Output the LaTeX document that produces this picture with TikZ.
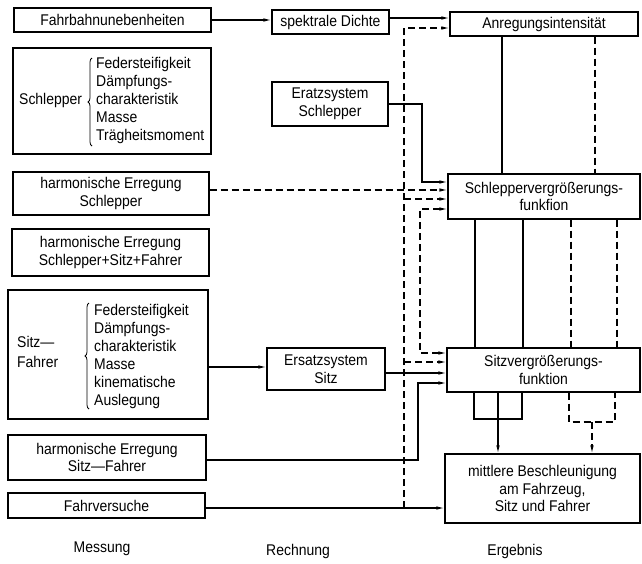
\documentclass[tikz,border=0pt]{standalone}
\usepackage{fontspec}
\setmainfont{Liberation Sans}[FakeStretch=0.9]
\usetikzlibrary{arrows.meta,decorations.pathreplacing}
\tikzset{
  box/.style={draw, line width=1.1pt, inner sep=0pt, align=center},
  conn/.style={line width=1.1pt},
  arr/.style={-{Latex[length=8pt,width=3.5pt]}},
  barr/.style={{Latex[length=8pt,width=3.5pt]}-{Latex[length=8pt,width=3.5pt]}},
  dsh/.style={dash pattern=on 7pt off 4pt},
  brc/.style={decorate, decoration={brace, amplitude=4pt}, line width=0.8pt},
  lst/.style={anchor=west, align=left, inner sep=0pt, font=\fontsize{15.5}{18}\selectfont},
}
\begin{document}
\begin{tikzpicture}[x=1pt, y=-1pt, font=\fontsize{15.5}{17.5}\selectfont]
\useasboundingbox (0,0) rectangle (642,563);
% boxes
\node[box, minimum width=197pt, minimum height=24pt] (fb) at (112.5,20) {Fahrbahnunebenheiten};
\node[box, minimum width=117pt, minimum height=24pt] (sp) at (330.5,22) {spektrale Dichte};
\node[box, minimum width=188pt, minimum height=24pt] (an) at (544,24) {Anregungsintensität};
\node[box, minimum width=198pt, minimum height=106pt] (sb) at (112,101) {};
\node[box, minimum width=116pt, minimum height=44pt] (es) at (330,104) {Eratzsystem\\Schlepper};
\node[box, minimum width=196pt, minimum height=43pt] (hs) at (111,193.5) {harmonische Erregung\\Schlepper};
\node[box, minimum width=197pt, minimum height=47pt] (hsf) at (110.5,252.5) {harmonische Erregung\\Schlepper+Sitz+Fahrer};
\node[box, minimum width=192pt, minimum height=45pt] (sv) at (544,196.5) {Schleppervergrößerungs-\\funkfion};
\node[box, minimum width=200pt, minimum height=129pt] (sfb) at (108,354.5) {};
\node[box, minimum width=118pt, minimum height=42pt] (ez) at (326,369) {Ersatzsystem\\Sitz};
\node[box, minimum width=193pt, minimum height=44pt] (zv) at (543.5,370) {Sitzvergrößerungs-\\funktion};
\node[box, minimum width=198pt, minimum height=45pt] (hz) at (107,457.5) {harmonische Erregung\\Sitz—Fahrer};
\node[box, minimum width=197pt, minimum height=25pt] (fv) at (106.5,505.5) {Fahrversuche};
\node[box, minimum width=195pt, minimum height=69pt] (mb) at (542.5,488.5) {mittlere Beschleunigung\\am Fahrzeug,\\Sitz und Fahrer};
% box contents
\node[anchor=west, inner sep=0pt] (sbl) at (19,100) {Schlepper};
\node[lst] (sbt) at (96,100) {Federsteifigkeit\\Dämpfungs-\\charakteristik\\Masse\\Trägheitsmoment};
\draw[brc] (92,146) -- (92,58);
\node[lst, font=\fontsize{15.5}{20.5}\selectfont] (sfl) at (17,352) {Sitz—\\Fahrer};
\node[lst] (sft) at (94,356) {Federsteifigkeit\\Dämpfungs-\\charakteristik\\Masse\\kinematische\\Auslegung};
\draw[brc] (89,409) -- (89,303);
% column labels
\node (lm) at (102,549) {Messung};
\node (lr) at (298,551) {Rechnung};
\node (le) at (515,551) {Ergebnis};
% junctions
\coordinate (jd) at (404,508);
\coordinate (j1) at (404,199);
\coordinate (j2) at (404,362);
\coordinate (jb) at (592,422);
% connectors
\draw[conn,arr] (fb.east) -- (fb.east -| sp.west);
\draw[conn,arr] (sp.east |- 0,18) -- (an.west |- 0,18);
\draw[conn,dsh,arr] (jd) |- (an.west |- 0,28);
\draw[conn,dsh,arr] (j1) -- (sv.west |- j1);
\draw[conn,dsh,arr] (j2) -- (zv.west |- j2);
\draw[conn,arr] (es.east) -- (es.east -| 422,0) |- (sv.west |- 0,182);
\draw[conn,dsh,arr] (hs.east |- 0,190) -- (sv.west |- 0,190);
\draw[conn,dsh,barr] (sv.west |- 0,209) -| (420,353) -- (zv.west |- 0,353);
\draw[conn,arr] (sfb.east |- 0,367) -- (ez.west |- 0,367);
\draw[conn,arr] (ez.east |- 0,373) -- (zv.west |- 0,373);
\draw[conn,arr] (hz.east |- 0,460) -| (418,383) -- (zv.west |- 0,383);
\draw[conn,arr] (fv.east |- 0,508) -- (mb.west |- 0,508);
% verticals
\draw[conn] (an.south -| 502,0) -- (sv.north -| 502,0);
\draw[conn,dsh] (an.south -| 595,0) -- (sv.north -| 595,0);
\draw[conn] (sv.south -| 475,0) -- (zv.north -| 475,0);
\draw[conn] (sv.south -| 523,0) -- (zv.north -| 523,0);
\draw[conn,dsh] (sv.south -| 571,0) -- (zv.north -| 571,0);
\draw[conn,dsh] (sv.south -| 617,0) -- (zv.north -| 617,0);
\draw[conn] (zv.south -| 474,0) |- (522,419) -- (zv.south -| 522,0);
\draw[conn,arr] (zv.south -| 498,0) -- (mb.north -| 498,0);
\draw[conn,dsh] (zv.south -| 569,0) |- (615,422) -- (zv.south -| 615,0);
\draw[conn,dsh,arr] (jb) -- (mb.north -| jb);
\end{tikzpicture}
\end{document}
